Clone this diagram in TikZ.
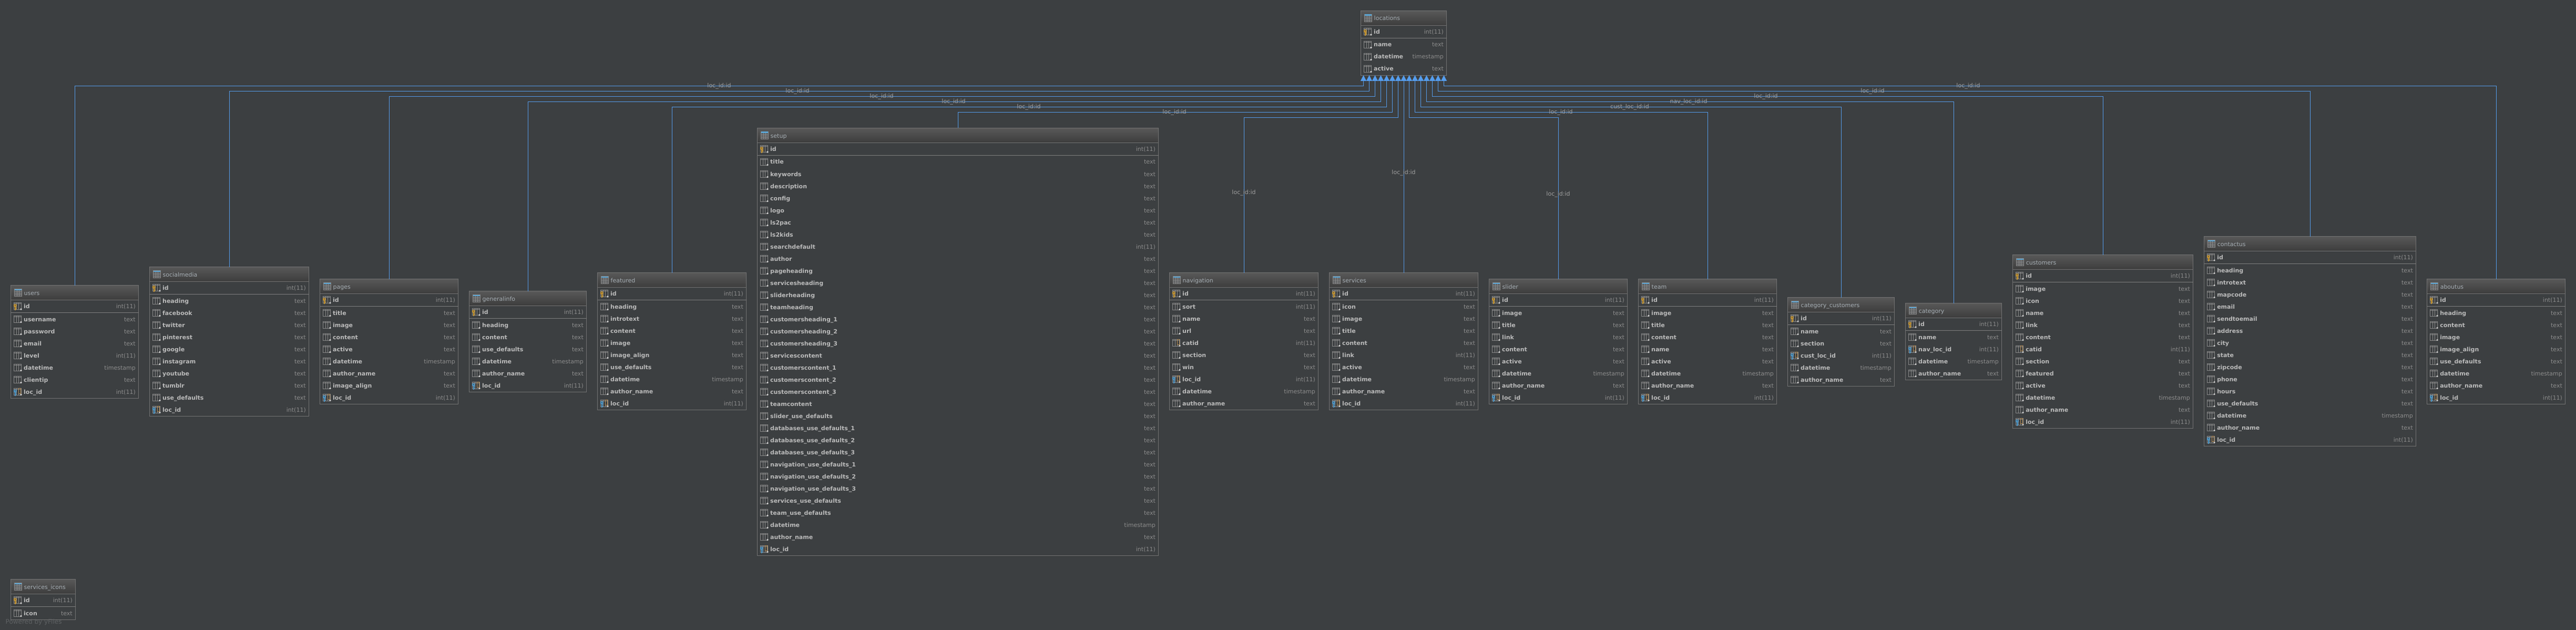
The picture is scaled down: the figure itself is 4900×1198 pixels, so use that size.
\documentclass[tikz,border=0pt]{standalone}
\usepackage{fontspec}
\setmainfont{DejaVu Sans}
\usetikzlibrary{arrows.meta}
\definecolor{bgdark}{HTML}{3C3F41}
\definecolor{hdtop}{HTML}{585858}
\definecolor{hdbot}{HTML}{3D3D3D}
\definecolor{tblborder}{HTML}{737373}
\definecolor{hdsep}{HTML}{616161}
\definecolor{idsep}{HTML}{808080}
\definecolor{gridgrey}{HTML}{8A8A8A}
\definecolor{dotgrey}{HTML}{D0D0D0}
\definecolor{titlegrey}{HTML}{A6AEB4}
\definecolor{namegrey}{HTML}{BBBBBB}
\definecolor{typegrey}{HTML}{8C8C8C}
\definecolor{labelgrey}{HTML}{A0A0A0}
\definecolor{fkblue}{HTML}{559DED}
\definecolor{stripblue}{HTML}{5CA8D8}
\definecolor{keygold}{HTML}{C8962E}
\definecolor{keyblue}{HTML}{4A97C9}
\definecolor{colorange}{HTML}{B98F55}
\definecolor{yfilesgrey}{HTML}{5F6264}
\tikzset{
    tblbox/.style={draw=tblborder,fill=bgdark,line width=1pt,inner sep=0pt,outer sep=0pt,anchor=north west},
    tblhead/.style={draw=tblborder,top color=hdtop,bottom color=hdbot,line width=1pt,inner sep=0pt,outer sep=0pt,anchor=north west,minimum height=28pt},
    tbltitle/.style={font=\fontsize{11pt}{13pt}\selectfont,text=titlegrey,inner sep=0pt,anchor=base west},
    colname/.style={font=\fontsize{11pt}{13pt}\selectfont\bfseries,text=namegrey,inner sep=0pt,anchor=base west},
    coltype/.style={font=\fontsize{11pt}{13pt}\selectfont,text=typegrey,inner sep=0pt,anchor=base east},
    fkline/.style={draw=fkblue,line width=1pt,-{Triangle[width=11pt,length=11pt,fill=fkblue]}},
    fklabel/.style={font=\fontsize{11pt}{13pt}\selectfont,text=labelgrey,inner sep=0pt,anchor=base},
    pics/tblicon/.style={code={
        \fill[gridgrey!35!bgdark] (7,7) rectangle (20.5,20.5);
        \draw[gridgrey,line width=.8pt] (7,7) rectangle (20.5,20.5);
        \foreach \gx in {11.5,16} {\draw[gridgrey,line width=.8pt] (\gx,7) -- (\gx,20.5);}
        \foreach \gy in {12,15,18} {\draw[gridgrey,line width=.8pt] (7,\gy) -- (20.5,\gy);}
        \fill[stripblue] (7,7) rectangle (20.5,9.5);
    }},
    pics/colc/.style={code={
        \draw[gridgrey,line width=.8pt] (6,-7) rectangle (19.5,6);
        \draw[gridgrey,line width=.8pt] (6,-5) -- (19.5,-5);
        \foreach \gx in {10.5,15} {\draw[gridgrey,line width=.8pt] (\gx,-7) -- (\gx,6);}
        \fill[dotgrey] (19.5,5.5) circle (1.8);
    }},
    pics/colo/.style={code={
        \pic {colc};
        \draw[colorange,line width=.9pt] (15.3,-6.5) rectangle (19.2,3.6);
    }},
    pics/keymark/.style={code={
        \fill[#1] (7.2,-1) rectangle (9.4,7.5);
        \fill[#1] (9.4,2) rectangle (11,3.2);
        \fill[#1] (9.4,4.5) rectangle (11,5.7);
        \fill[#1] (8.3,-1.5) circle (3);
        \fill[bgdark] (8.3,-2) circle (1);
    }},
    pics/colf/.style={code={
        \pic {colo};
        \pic {keymark=keyblue};
    }},
    pics/colk/.style={code={
        \pic {colc};
        \pic {keymark=keygold};
    }},
}
\newcommand{\dbtable}[6]{%
    \pgfmathsetmacro{\tblw}{#3-#2}
    \pgfmathsetmacro{\tblh}{54+23*#5}
    \node[tblbox,minimum width=\tblw pt,minimum height=\tblh pt] (#1) at (#2,#4) {};
    \node[tblhead,minimum width=\tblw pt] (#1-head) at (#2,#4) {};
    \draw[idsep,line width=1pt] ([yshift=-52pt]#1.north west) -- ([yshift=-52pt]#1.north east);
    \pic at (#2,#4) {tblicon};
    \node[tbltitle] (#1-title) at (#2+25,#4+18.5) {\detokenize{#1}};
    \pic at (#2,#4+40) {colk};
    \node[colname] (#1-id) at (#2+24.5,#4+44) {id};
    \node[coltype] (#1-idtype) at (#3-5.5,#4+44) {int(11)};
    \foreach \colname/\coltype/\colkind [count=\rowno] in {#6} {
        \pgfmathsetmacro{\rowy}{#4+64.5+23*(\rowno-1)}
        \pic at (#2,\rowy) {col\colkind};
        \node[colname] (#1-name\rowno) at (#2+24.5,\rowy+4) {\colname};
        \node[coltype] (#1-type\rowno) at (#3-5.5,\rowy+4) {\coltype};
    }
}
\begin{document}
\begin{tikzpicture}[x=1pt,y=-1pt]
    \useasboundingbox (0,0) rectangle (4900,1198);
    \fill[bgdark] (0,0) rectangle (4900,1198);

    \dbtable{locations}{2588.5}{2751.5}{20.5}{3}{name/text/c,datetime/timestamp/c,active/text/c}
    \dbtable{users}{20.5}{263.5}{542.5}{7}{username/text/c,password/text/c,email/text/c,level/int(11)/c,datetime/timestamp/c,clientip/text/c,loc\_id/int(11)/f}
    \dbtable{socialmedia}{284.5}{587.5}{507.5}{10}{heading/text/c,facebook/text/c,twitter/text/c,pinterest/text/c,google/text/c,instagram/text/c,youtube/text/c,tumblr/text/c,use\_defaults/text/c,loc\_id/int(11)/f}
    \dbtable{pages}{608.5}{871.5}{530.5}{8}{title/text/c,image/text/c,content/text/c,active/text/c,datetime/timestamp/c,author\_name/text/c,image\_align/text/c,loc\_id/int(11)/f}
    \dbtable{generalinfo}{892.5}{1115.5}{553.5}{6}{heading/text/c,content/text/c,use\_defaults/text/c,datetime/timestamp/c,author\_name/text/c,loc\_id/int(11)/f}
    \dbtable{featured}{1136.5}{1419.5}{518.5}{9}{heading/text/c,introtext/text/c,content/text/c,image/text/c,image\_align/text/c,use\_defaults/text/c,datetime/timestamp/c,author\_name/text/c,loc\_id/int(11)/f}
    \dbtable{setup}{1440.5}{2203.5}{243.5}{33}{title/text/c,keywords/text/c,description/text/c,config/text/c,logo/text/c,ls2pac/text/c,ls2kids/text/c,searchdefault/int(11)/c,author/text/c,pageheading/text/c,servicesheading/text/c,sliderheading/text/c,teamheading/text/c,customersheading\_1/text/c,customersheading\_2/text/c,customersheading\_3/text/c,servicescontent/text/c,customerscontent\_1/text/c,customerscontent\_2/text/c,customerscontent\_3/text/c,teamcontent/text/c,slider\_use\_defaults/text/c,databases\_use\_defaults\_1/text/c,databases\_use\_defaults\_2/text/c,databases\_use\_defaults\_3/text/c,navigation\_use\_defaults\_1/text/c,navigation\_use\_defaults\_2/text/c,navigation\_use\_defaults\_3/text/c,services\_use\_defaults/text/c,team\_use\_defaults/text/c,datetime/timestamp/c,author\_name/text/c,loc\_id/int(11)/f}
    \dbtable{navigation}{2224.5}{2507.5}{518.5}{9}{sort/int(11)/c,name/text/c,url/text/c,catid/int(11)/o,section/text/c,win/text/c,loc\_id/int(11)/f,datetime/timestamp/c,author\_name/text/c}
    \dbtable{services}{2528.5}{2811.5}{518.5}{9}{icon/text/c,image/text/c,title/text/c,content/text/c,link/int(11)/c,active/text/c,datetime/timestamp/c,author\_name/text/c,loc\_id/int(11)/f}
    \dbtable{slider}{2832.5}{3095.5}{530.5}{8}{image/text/c,title/text/c,link/text/c,content/text/c,active/text/c,datetime/timestamp/c,author\_name/text/c,loc\_id/int(11)/f}
    \dbtable{team}{3116.5}{3379.5}{530.5}{8}{image/text/c,title/text/c,content/text/c,name/text/c,active/text/c,datetime/timestamp/c,author\_name/text/c,loc\_id/int(11)/f}
    \dbtable{category_customers}{3400.5}{3603.5}{565.5}{5}{name/text/c,section/text/c,cust\_loc\_id/int(11)/f,datetime/timestamp/c,author\_name/text/c}
    \dbtable{category}{3624.5}{3807.5}{576.5}{4}{name/text/c,nav\_loc\_id/int(11)/f,datetime/timestamp/c,author\_name/text/c}
    \dbtable{customers}{3828.5}{4171.5}{484.5}{12}{image/text/c,icon/text/c,name/text/c,link/text/c,content/text/c,catid/int(11)/o,section/text/c,featured/text/c,active/text/c,datetime/timestamp/c,author\_name/text/c,loc\_id/int(11)/f}
    \dbtable{contactus}{4192.5}{4595.5}{449.5}{15}{heading/text/c,introtext/text/c,mapcode/text/c,email/text/c,sendtoemail/text/c,address/text/c,city/text/c,state/text/c,zipcode/text/c,phone/text/c,hours/text/c,use\_defaults/text/c,datetime/timestamp/c,author\_name/text/c,loc\_id/int(11)/f}
    \dbtable{aboutus}{4616.5}{4879.5}{530.5}{8}{heading/text/c,content/text/c,image/text/c,image\_align/text/c,use\_defaults/text/c,datetime/timestamp/c,author\_name/text/c,loc\_id/int(11)/f}
    \dbtable{services_icons}{20.5}{143.5}{1101.5}{1}{icon/text/c}

    \foreach \tbl/\tipx/\lvl/\lblx/\lbly/\lbl [count=\fkno] in {
        users/2593.5/163.5/1368/163.5/loc\_id:id,
        socialmedia/2604.5/173.5/1517/173.5/loc\_id:id,
        pages/2615.5/183.5/1677/183.5/loc\_id:id,
        generalinfo/2626.5/193.5/1814/193.5/loc\_id:id,
        featured/2637.5/203.5/1957/203.5/loc\_id:id,
        setup/2648.5/213.5/2234/213.5/loc\_id:id,
        navigation/2659.5/223.5/2366/366/loc\_id:id,
        services/2670/233.5/2670/328/loc\_id:id,
        slider/2680.5/223.5/2964/369/loc\_id:id,
        team/2691.5/213.5/2969/213.5/loc\_id:id,
        category_customers/2702.5/203.5/3100/203.5/cust\_loc\_id:id,
        category/2713.5/193.5/3212/193.5/nav\_loc\_id:id,
        customers/2724.5/183.5/3359/183.5/loc\_id:id,
        contactus/2735.5/173.5/3562/173.5/loc\_id:id,
        aboutus/2746.5/163.5/3744/163.5/loc\_id:id} {
        \coordinate (bend\fkno) at (\tipx,\lvl);
        \coordinate (tip\fkno) at (\tipx,143);
        \draw[fkline] (\tbl.north) |- (bend\fkno) -- (tip\fkno);
        \node[fklabel] (fklbl\fkno) at (\lblx,\lbly+3.5) {\lbl};
    }

    \node[font=\fontsize{12pt}{14pt}\selectfont,text=yfilesgrey,inner sep=0pt,anchor=base west] (yfiles) at (10.5,1186) {Powered by yFiles};
\end{tikzpicture}
\end{document}
